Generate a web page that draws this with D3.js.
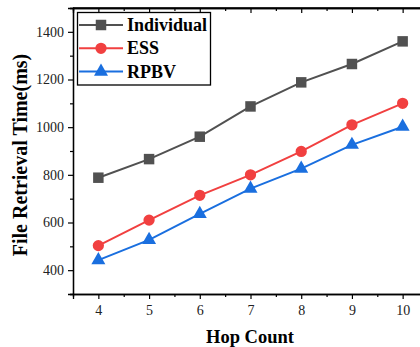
<!DOCTYPE html>
<html>
<head>
<meta charset="utf-8">
<script src="https://cdn.jsdelivr.net/npm/d3@7/dist/d3.min.js"></script>
<style>
  body { margin: 0; background: #fff; }
  svg { display: block; font-family: "Liberation Serif", "Times New Roman", serif; }
  .tick text { font-family: "Liberation Serif", serif; font-size: 14px; }
</style>
</head>
<body>
<div id="chart"></div>
<script>
const hopCounts = [4, 5, 6, 7, 8, 9, 10];
const individual = [788, 866, 960, 1087, 1188, 1265, 1360];
const ess = [503, 610, 714, 800, 898, 1010, 1100];
const rpbv = [442, 527, 636, 742, 826, 926, 1002];
const yTicks = [400, 600, 800, 1000, 1200, 1400];

const series = [
    { name: "Individual", values: individual, color: "#515151", symbol: d3.symbolSquare, size: 110 },
    { name: "ESS", values: ess, color: "#F14040", symbol: d3.symbolCircle, size: 100 },
    { name: "RPBV", values: rpbv, color: "#1A6FDF", symbol: d3.symbolTriangle, size: 85 }
];

const width = 420, height = 347;
const plot = { left: 73, right: 428, top: 8, bottom: 294 };

const svg = d3.select("#chart").append("svg")
    .attr("width", width)
    .attr("height", height);

const x = d3.scaleLinear().domain([3.5, 10.5]).range([plot.left, plot.right]);
const y = d3.scaleLinear().domain([300, 1500]).range([plot.bottom, plot.top]);

// frame (top mirror)
svg.append("line").attr("x1", plot.left).attr("x2", plot.right)
    .attr("y1", plot.top).attr("y2", plot.top)
    .attr("stroke", "#000").attr("stroke-width", 1.3);

// bottom axis
svg.append("g").attr("transform", `translate(0,${plot.bottom})`)
    .call(d3.axisBottom(x).tickValues(hopCounts).tickSize(5).tickPadding(6).tickFormat(d3.format("d")));
svg.append("g").attr("transform", `translate(0,${plot.bottom})`)
    .call(d3.axisBottom(x).tickValues(d3.range(4.5, 10.5, 1)).tickSize(3).tickFormat(""));

// top mirror ticks
svg.append("g").attr("transform", `translate(0,${plot.top})`)
    .call(d3.axisBottom(x).tickValues(hopCounts).tickSize(5).tickFormat(""));
svg.append("g").attr("transform", `translate(0,${plot.top})`)
    .call(d3.axisBottom(x).tickValues(d3.range(4.5, 10.5, 1)).tickSize(3).tickFormat(""));

// left axis
svg.append("g").attr("transform", `translate(${plot.left},0)`)
    .call(d3.axisLeft(y).tickValues(yTicks).tickSize(5).tickPadding(4).tickFormat(d3.format("d")));
svg.append("g").attr("transform", `translate(${plot.left},0)`)
    .call(d3.axisLeft(y).tickValues(d3.range(300, 1600, 200)).tickSize(3).tickFormat(""));

svg.selectAll("g").attr("font-family", null).attr("font-size", null);
svg.selectAll(".domain").attr("stroke", "#000").attr("stroke-width", 1.3);
svg.selectAll(".tick line").attr("stroke", "#000").attr("stroke-width", 1.2);
svg.selectAll(".tick text").attr("fill", "#222");

// axis titles
svg.append("text")
    .attr("x", 250)
    .attr("y", 343)
    .attr("text-anchor", "middle")
    .attr("font-weight", "bold")
    .attr("font-size", 18.5)
    .text("Hop Count");

svg.append("text")
    .attr("transform", "rotate(-90)")
    .attr("x", -155)
    .attr("y", 27)
    .attr("text-anchor", "middle")
    .attr("font-weight", "bold")
    .attr("font-size", 20)
    .text("File Retrieval Time(ms)");

// lines and markers
const line = d3.line()
    .x((d, i) => x(hopCounts[i]))
    .y(d => y(d));

series.forEach(s => {
    svg.append("path")
        .datum(s.values)
        .attr("fill", "none")
        .attr("stroke", s.color)
        .attr("stroke-width", 2)
        .attr("d", line);

    svg.selectAll(null)
        .data(s.values)
        .enter()
        .append("path")
        .attr("transform", (d, i) => `translate(${x(hopCounts[i])},${y(d)})`)
        .attr("d", d3.symbol().type(s.symbol).size(s.size))
        .attr("fill", s.color);
});

// legend
const legend = svg.append("g");
legend.append("rect")
    .attr("x", 77.5).attr("y", 12.5)
    .attr("width", 133).attr("height", 72.5)
    .attr("fill", "#fff")
    .attr("stroke", "#000")
    .attr("stroke-width", 1.3);

series.forEach((s, i) => {
    const ly = 25 + i * 23.3;
    legend.append("line")
        .attr("x1", 79).attr("x2", 123)
        .attr("y1", ly).attr("y2", ly)
        .attr("stroke", s.color).attr("stroke-width", 2);
    legend.append("path")
        .attr("transform", `translate(101,${ly})`)
        .attr("d", d3.symbol().type(s.symbol).size(s.size))
        .attr("fill", s.color);
    legend.append("text")
        .attr("x", 127)
        .attr("y", ly + 6)
        .attr("font-weight", "bold")
        .attr("font-size", 18)
        .text(s.name);
});
</script>
</body>
</html>
